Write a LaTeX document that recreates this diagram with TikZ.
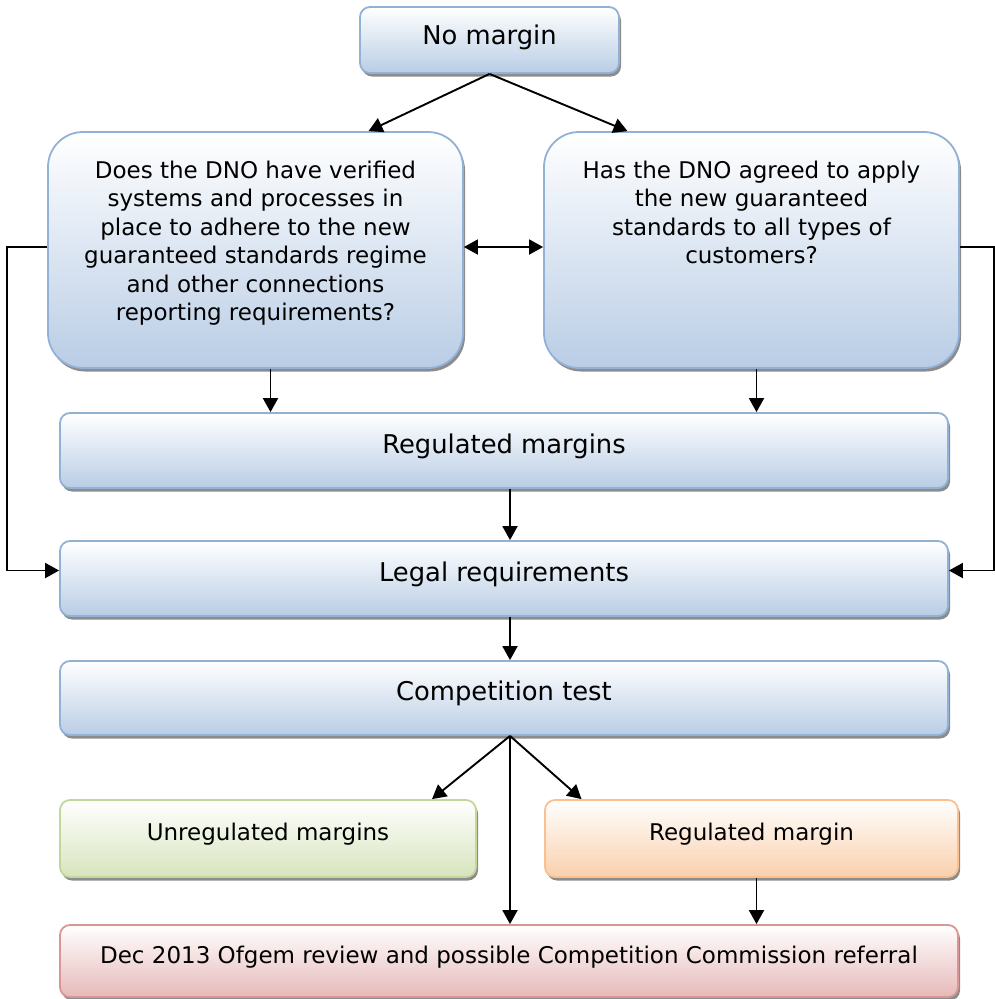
\documentclass[tikz,border=0pt]{standalone}
\usepackage{fontspec}
\setmainfont{DejaVu Sans}
\usepackage{tikz}
\usetikzlibrary{arrows.meta,positioning,calc,shadows}

\definecolor{blueedge}{HTML}{92B1D6}
\definecolor{bluefill}{HTML}{B9CDE5}
\definecolor{greenedge}{HTML}{C3D69B}
\definecolor{greenfill}{HTML}{D7E4BD}
\definecolor{orangeedge}{HTML}{FAC090}
\definecolor{orangefill}{HTML}{F9D0AC}
\definecolor{rededge}{HTML}{D99694}
\definecolor{redfill}{HTML}{E6B9B8}

% question text, hung from the top of its box
\newcommand{\qtext}[1]{\parbox[c][236pt][t]{400pt}{\centering\rule{0pt}{46pt}#1}}

\begin{document}
\begin{tikzpicture}[
  x=1pt, y=-1pt,
  font=\fontsize{23}{28.5}\selectfont, >={Triangle[length=14pt, width=15pt]},
  conn/.style={->, line width=1.9pt},
  box/.style={rectangle, rounded corners=10pt, line width=1.8pt, inner sep=0pt,
    text height=16pt, text depth=11pt,
    drop shadow={shadow xshift=2pt, shadow yshift=-3.5pt, fill=black!45, opacity=1}},
  bluebox/.style={box, draw=blueedge, top color=white, bottom color=bluefill},
  greenbox/.style={box, draw=greenedge, top color=white, bottom color=greenfill},
  orangebox/.style={box, draw=orangeedge, top color=white, bottom color=orangefill},
  redbox/.style={box, draw=rededge, top color=white, bottom color=redfill},
  bigtext/.style={font=\fontsize{25.8}{31}\selectfont},
  qbox/.style={bluebox, rounded corners=35pt, text height=, text depth=,
    minimum width=415pt, minimum height=236pt},
  wide/.style={bigtext, minimum width=888pt, minimum height=75pt},
]
\useasboundingbox (0,0) rectangle (995,999);

% Start
\node[bluebox, bigtext, minimum width=259pt, minimum height=66pt, text depth=8pt] (nomargin) at (489.5,40) {No margin};

% The two questions
\node[qbox] (qsys) at (255.5,250) {\qtext{Does the DNO have verified\\ systems and processes in\\ place to adhere to the new\\ guaranteed standards regime\\ and other connections\\ reporting requirements?}};
\node[qbox] (qcust) at (751.5,250) {\qtext{Has the DNO agreed to apply\\ the new guaranteed\\ standards to all types of\\ customers?}};

% Main column
\node[bluebox, wide] (regs) at (504,450.5) {Regulated margins};
\node[bluebox, wide] (legal) at (504,578.5) {Legal requirements};
\node[bluebox, wide, minimum height=74pt] (comp) at (504,698) {Competition test};

% Outcomes
\node[greenbox, minimum width=416pt, minimum height=77pt, text depth=12pt] (unreg) at (268,838.5) {Unregulated margins};
\node[orangebox, minimum width=413pt, minimum height=77pt, text depth=12pt] (regm) at (751.5,838.5) {Regulated margin};
\node[redbox, minimum width=898pt, minimum height=72pt] (review) at (509,961) {Dec 2013 Ofgem review and possible Competition Commission referral};

% Arrows
\draw[conn] (nomargin.south) -- ([xshift=113pt]qsys.north);
\draw[conn] (nomargin.south) -- ([xshift=-124pt]qcust.north);
\draw[<->, line width=1.9pt] ([yshift=3pt]qsys.east) -- ([yshift=3pt]qcust.west);
\draw[conn] ([xshift=15pt]qsys.south) -- ([xshift=15pt]qsys.south |- regs.north);
\draw[conn] ([xshift=5pt]qcust.south) -- ([xshift=5pt]qcust.south |- regs.north);
\draw[conn] ([yshift=3pt]qsys.west) -- ++(-40,0) |- ([yshift=8pt]legal.west);
\draw[conn] ([yshift=3pt]qcust.east) -- ++(34,0) |- ([yshift=8pt]legal.east);
\draw[conn] ([xshift=6pt]regs.south) -- ([xshift=6pt]legal.north);
\draw[conn] ([xshift=6pt]legal.south) -- ([xshift=6pt]comp.north);
\draw[conn] ([xshift=6pt]comp.south) -- ([xshift=164pt]unreg.north);
\draw[conn] ([xshift=6pt]comp.south) -- ([xshift=-170pt]regm.north);
\draw[conn] ([xshift=6pt]comp.south) -- ([xshift=6pt]comp.south |- review.north);
\draw[conn] ([xshift=5pt]regm.south) -- ([xshift=5pt]regm.south |- review.north);
\end{tikzpicture}
\end{document}
